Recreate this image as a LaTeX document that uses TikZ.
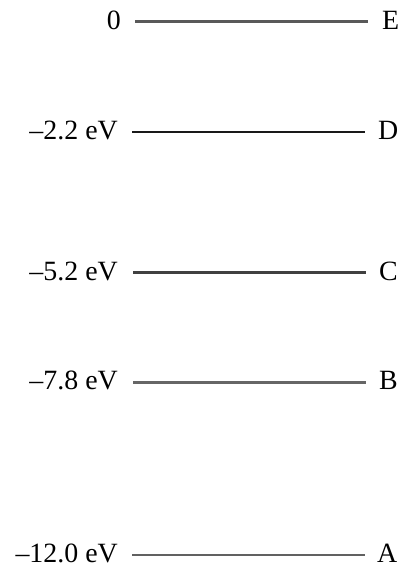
\documentclass[tikz,border=0pt]{standalone}
\usepackage{fontspec}
\setmainfont{Liberation Serif}
\begin{document}
\begin{tikzpicture}[x=1bp,y=-1bp,
  lab/.style={anchor=base east,inner sep=0pt,font=\fontsize{28}{32}\selectfont},
  let/.style={anchor=base west,inner sep=0pt,font=\fontsize{28}{32}\selectfont},
  lvl/.style={line width=2.8bp}]
\useasboundingbox (0,0) rectangle (402,567);
% E
\node[lab] (lE) at (121,29.5) {0};
\node[let] (tE) at (382,29.5) {E};
\coordinate (e1) at (135,21.7); \coordinate (e2) at (368,21.7);
\draw[lvl,black!65] (e1) -- (e2);
% D
\node[lab] (lD) at (118,139.8) {–2.2 eV};
\node[let] (tD) at (378,139.8) {D};
\coordinate (d1) at (132,132.3); \coordinate (d2) at (365,132.3);
\draw[lvl,black!90,line width=2.2bp] (d1) -- (d2);
% C
\node[lab] (lC) at (118,280.2) {–5.2 eV};
\node[let] (tC) at (379,280.2) {C};
\coordinate (c1) at (133,272.7); \coordinate (c2) at (366,272.7);
\draw[lvl,black!75] (c1) -- (c2);
% B
\node[lab] (lB) at (118,389.8) {–7.8 eV};
\node[let] (tB) at (379,389.8) {B};
\coordinate (b1) at (133,382.3); \coordinate (b2) at (366,382.3);
\draw[lvl,black!60] (b1) -- (b2);
% A
\node[lab] (lA) at (118,562.3) {–12.0 eV};
\node[let] (tA) at (377,562.3) {A};
\coordinate (a1) at (132,555) ; \coordinate (a2) at (365,555);
\draw[lvl,black!62] (a1) -- (a2);
\end{tikzpicture}
\end{document}
